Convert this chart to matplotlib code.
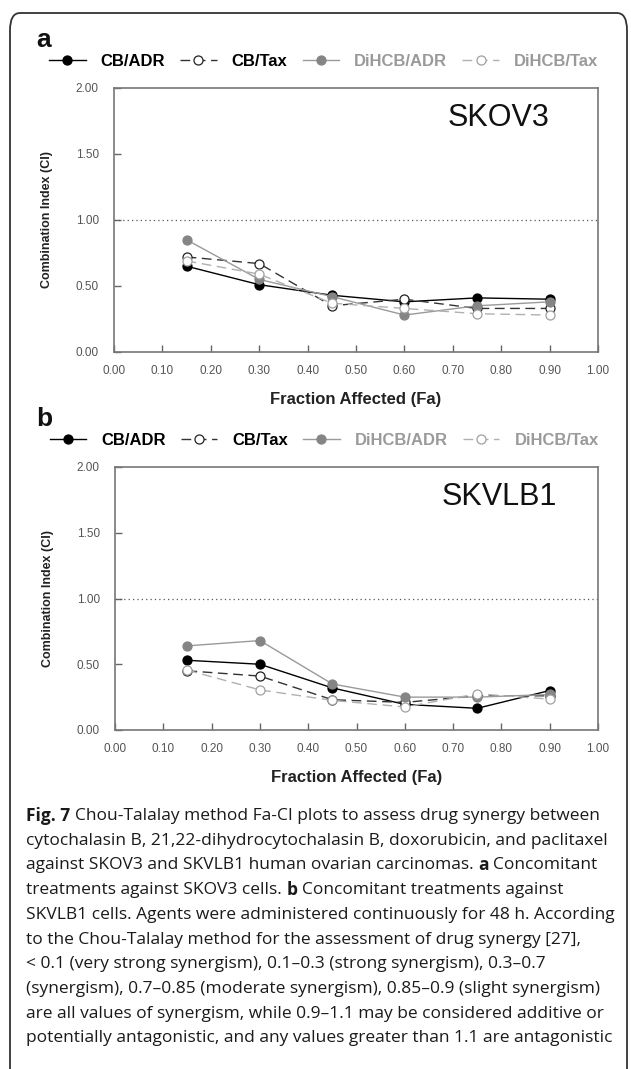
import numpy as np
import matplotlib
matplotlib.use('Agg')
import matplotlib.pyplot as plt
from matplotlib.patches import FancyBboxPatch

# Datos
fa = [0.15, 0.30, 0.45, 0.60, 0.75, 0.90]

skov3_cb_adr = [0.65, 0.51, 0.43, 0.38, 0.41, 0.40]
skov3_cb_tax = [0.72, 0.67, 0.35, 0.40, 0.33, 0.33]
skov3_dihcb_adr = [0.85, 0.55, 0.42, 0.28, 0.35, 0.38]
skov3_dihcb_tax = [0.69, 0.59, 0.37, 0.33, 0.29, 0.28]

skvlb1_cb_adr = [0.53, 0.50, 0.32, 0.195, 0.165, 0.30]
skvlb1_cb_tax = [0.45, 0.41, 0.23, 0.21, 0.26, 0.26]
skvlb1_dihcb_adr = [0.64, 0.68, 0.35, 0.25, 0.25, 0.27]
skvlb1_dihcb_tax = [0.455, 0.305, 0.225, 0.175, 0.275, 0.235]

series_names = ['CB/ADR', 'CB/Tax', 'DiHCB/ADR', 'DiHCB/Tax']
x_ticks = [0.0, 0.1, 0.2, 0.3, 0.4, 0.5, 0.6, 0.7, 0.8, 0.9, 1.0]
y_ticks = [0.0, 0.5, 1.0, 1.5, 2.0]

caption = [
    [('Fig. 7', True), ('Chou-Talalay method Fa-CI plots to assess drug synergy between', False)],
    [('cytochalasin B, 21,22-dihydrocytochalasin B, doxorubicin, and paclitaxel', False)],
    [('against SKOV3 and SKVLB1 human ovarian carcinomas.', False), ('a', True), ('Concomitant', False)],
    [('treatments against SKOV3 cells.', False), ('b', True), ('Concomitant treatments against', False)],
    [('SKVLB1 cells. Agents were administered continuously for 48 h. According', False)],
    [('to the Chou-Talalay method for the assessment of drug synergy [27],', False)],
    [('< 0.1 (very strong synergism), 0.1–0.3 (strong synergism), 0.3–0.7', False)],
    [('(synergism), 0.7–0.85 (moderate synergism), 0.85–0.9 (slight synergism)', False)],
    [('are all values of synergism, while 0.9–1.1 may be considered additive or', False)],
    [('potentially antagonistic, and any values greater than 1.1 are antagonistic', False)],
]

plt.rcParams['font.family'] = 'Liberation Sans'

W, H = 631, 1069
fig = plt.figure(figsize=(W / 100, H / 100), dpi=100)


def fx(px):
    return px / W


def fy(py):
    return 1 - py / H


# Marco redondeado
box = FancyBboxPatch((fx(10), fy(1090)), fx(617), (1090 - 13) / H,
                     boxstyle='round,pad=0,rounding_size=0.016',
                     transform=fig.transFigure, facecolor='none',
                     edgecolor='#333333', linewidth=1.3, clip_on=False)
fig.patches.append(box)

estilos = [
    dict(color='black', linestyle='-', marker='o', mfc='black', mec='black', lw=1.0),
    dict(color='#333333', linestyle=(0, (7, 4)), marker='o', mfc='white', mec='#222222', lw=1.0),
    dict(color='#9a9a9a', linestyle='-', marker='o', mfc='#858585', mec='#858585', lw=1.0),
    dict(color='#b0b0b0', linestyle=(0, (7, 4)), marker='o', mfc='white', mec='#a0a0a0', lw=1.0),
]
legend_colors = ['black', 'black', '#9a9a9a', '#9a9a9a']


def panel(rect, datos, nombre, letra, letra_y):
    ax = fig.add_axes(rect)
    for serie, nom, st in zip(datos, series_names, estilos):
        ax.plot(fa, serie, markersize=6.5, label=nom, markeredgewidth=0.9, **st)
    ax.axhline(1.0, color='#555555', linestyle=(0, (1, 2.5)), linewidth=0.9)
    ax.set_xlim(0, 1)
    ax.set_ylim(0, 2)
    ax.set_xticks(x_ticks)
    ax.set_xticklabels([f'{t:.2f}' for t in x_ticks])
    ax.set_yticks(y_ticks)
    ax.set_yticklabels([f'{t:.2f}' for t in y_ticks])
    ax.tick_params(direction='in', length=5, width=1, color='#666666',
                   labelsize=8.5, labelcolor='#555555', pad=9)
    ax.tick_params(axis='y', pad=11)
    for s in ax.spines.values():
        s.set_color('#777777')
        s.set_linewidth(1.2)
    ax.set_xlabel('Fraction Affected (Fa)', fontsize=12, fontweight='bold',
                  color='#222222', labelpad=11)
    ax.set_ylabel('Combination Index (CI)', fontsize=9, fontweight='bold',
                  color='#222222', labelpad=16)
    ax.text(0.795, 0.885, nombre, transform=ax.transAxes, fontsize=22,
            ha='center', va='center', color='#111111')
    leg = ax.legend(loc='center', bbox_to_anchor=(0.433, 1.10), ncol=4,
                    frameon=False, handlelength=2.2, handletextpad=0.9,
                    columnspacing=0.9, prop={'size': 12, 'weight': 'bold'})
    for txt, c in zip(leg.get_texts(), legend_colors):
        txt.set_color(c)
    fig.text(fx(36), fy(letra_y), letra, fontsize=19, fontweight='bold',
             ha='left', va='center', color='#111111')
    return ax


panel([fx(114), fy(352), fx(598) - fx(114), (352 - 88) / H],
      [skov3_cb_adr, skov3_cb_tax, skov3_dihcb_adr, skov3_dihcb_tax],
      'SKOV3', 'a', 40)
panel([fx(115), fy(730), fx(598) - fx(115), (730 - 467) / H],
      [skvlb1_cb_adr, skvlb1_cb_tax, skvlb1_dihcb_adr, skvlb1_dihcb_tax],
      'SKVLB1', 'b', 419)

# Leyenda de la figura (texto con partes en negrita)
renderer = fig.canvas.get_renderer()
cap_size = 12.55
cap_font = ['Open Sans', 'DejaVu Sans']
probe = fig.text(0, 0, 'a a', fontsize=cap_size, family=cap_font)
probe2 = fig.text(0, 0, 'aa', fontsize=cap_size, family=cap_font)
space_w = (probe.get_window_extent(renderer).width
           - probe2.get_window_extent(renderer).width)
probe.remove()
probe2.remove()

y0 = 816
for i, linea in enumerate(caption):
    x = 26
    y = y0 + i * 24.7
    for j, (seg, negrita) in enumerate(linea):
        t = fig.text(fx(x), fy(y), seg, fontsize=cap_size, family=cap_font,
                     fontweight='bold' if negrita else 'normal',
                     color='#1a1a1a', ha='left', va='center')
        x += t.get_window_extent(renderer).width + space_w

plt.savefig('out.png', dpi=100)
